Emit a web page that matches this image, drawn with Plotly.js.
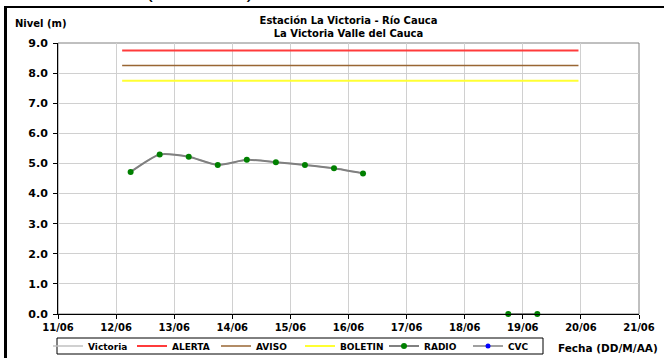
<!DOCTYPE html>
<html>
<head>
<meta charset="utf-8">
<script src="https://cdn.plot.ly/plotly-3.0.1.min.js"></script>
<style>
  html, body { margin: 0; padding: 0; background: #fff; overflow: hidden; }
  #chart { position: absolute; left: 0; top: 0; width: 664px; height: 358px; }
  #frame { position: absolute; left: 4px; top: 6px; width: 700px; height: 400px;
           border-left: 3px solid #000; border-top: 2px solid #000; pointer-events: none; }
</style>
</head>
<body>
<div id="chart"></div>
<div id="frame"></div>
<script>
// ---- data ----
const radioTimes = ['2013-06-12 06:00', '2013-06-12 18:00', '2013-06-13 06:00', '2013-06-13 18:00',
                    '2013-06-14 06:00', '2013-06-14 18:00', '2013-06-15 06:00', '2013-06-15 18:00',
                    '2013-06-16 06:00', '2013-06-17 12:00', '2013-06-18 18:00', '2013-06-19 06:00'];
const radioLevels = [4.72, 5.30, 5.22, 4.95, 5.12, 5.04, 4.95, 4.84, 4.67, null, 0, 0];
const cvcTimes = [null];
const cvcLevels = [null];
const thresholdTimes = ['2013-06-12 02:30', '2013-06-19 23:00'];
const alertaLevel = [8.75, 8.75];
const avisoLevel = [8.25, 8.25];
const boletinLevel = [7.75, 7.75];
const xTickStart = '2013-06-11';
const xTickEnd = '2013-06-21';
const titleText = 'Estación La Victoria - Río Cauca<br>La Victoria Valle del Cauca';
const headerText = 'Río Cauca (La Victoria)';

const FONT = 'DejaVu Sans, Verdana, sans-serif';
const PW = 581, PH = 271; // plot area size in px

const traces = [
  {name: 'Victoria', x: radioTimes, y: radioLevels, type: 'scatter', mode: 'lines',
   line: {color: '#c0c0c0', width: 1.5, shape: 'spline', smoothing: 0.6}, connectgaps: false},
  {name: 'ALERTA', x: thresholdTimes, y: alertaLevel, type: 'scatter', mode: 'lines',
   line: {color: '#ff3b3b', width: 2}},
  {name: 'AVISO', x: thresholdTimes, y: avisoLevel, type: 'scatter', mode: 'lines',
   line: {color: '#996633', width: 1.5}},
  {name: 'BOLETIN', x: thresholdTimes, y: boletinLevel, type: 'scatter', mode: 'lines',
   line: {color: '#ffff33', width: 2}},
  {name: 'RADIO', x: radioTimes, y: radioLevels, type: 'scatter', mode: 'lines+markers',
   line: {color: '#808080', width: 2, shape: 'spline', smoothing: 0.6},
   marker: {color: '#008000', size: 6}, connectgaps: false, cliponaxis: false},
  {name: 'CVC', x: cvcTimes, y: cvcLevels, type: 'scatter', mode: 'lines+markers',
   line: {color: '#a0a0a0', width: 2}, marker: {color: '#0000ff', size: 5}}
];

const layout = {
  width: 664, height: 358,
  margin: {l: 58, r: 25, t: 43, b: 44, pad: 0, autoexpand: false},
  paper_bgcolor: '#fff', plot_bgcolor: '#fff',
  font: {family: FONT, size: 10, color: '#000'},
  showlegend: true,
  title: {text: titleText, font: {family: FONT, size: 10, weight: 'bold', color: '#000'},
          xref: 'paper', x: 0.5, xanchor: 'center', yref: 'container', y: 1 - 23.5/358, yanchor: 'middle'},
  xaxis: {type: 'date', range: [xTickStart, xTickEnd], dtick: 86400000, tick0: xTickStart,
          tickformat: '%d/%m', showgrid: true, gridcolor: '#d0d0d0', gridwidth: 1,
          showline: true, linecolor: '#000', linewidth: 1, ticks: 'outside', ticklen: 4,
          tickcolor: '#000', tickfont: {family: FONT, size: 10, weight: 'bold'}, zeroline: false, fixedrange: true},
  yaxis: {range: [0, 9], dtick: 1, tickformat: '.1f', showgrid: true, gridcolor: '#d0d0d0', gridwidth: 1,
          showline: true, linecolor: '#000', linewidth: 1, ticks: 'outside', ticklen: 4, tickcolor: '#000',
          ticklabelstandoff: 3,
          tickfont: {family: FONT, size: 11, weight: 'bold'}, zeroline: false, fixedrange: true},
  shapes: [
    {type: 'rect', xref: 'paper', yref: 'paper', x0: 0, x1: 1, y0: 0, y1: 1,
     line: {color: '#808080', width: 1}, layer: 'below'},
    {type: 'rect', xref: 'paper', yref: 'paper', x0: (57 - 58) / PW, x1: (543 - 58) / PW,
     y0: -(354 - 314) / PH, y1: -(338 - 314) / PH, line: {color: '#000', width: 1}, layer: 'below'}
  ],
  legend: {orientation: 'h', x: -10 / PW, xanchor: 'left', y: -32 / PH, yanchor: 'middle',
           borderwidth: 0, bgcolor: 'rgba(0,0,0,0)',
           font: {family: FONT, size: 9, weight: 'bold'},
           itemwidth: 30, entrywidth: 39, entrywidthmode: 'pixels', tracegroupgap: 0},
  annotations: [
    {text: 'Nivel (m)', xref: 'paper', yref: 'paper', x: -45 / PW, xanchor: 'left',
     y: 1 + 20 / PH, yanchor: 'middle', showarrow: false,
     font: {family: FONT, size: 10, weight: 'bold'}},
    {text: 'Fecha (DD/M/AA)', xref: 'paper', yref: 'paper', x: 1 + 21 / PW, xanchor: 'right',
     y: -34 / PH, yanchor: 'middle', showarrow: false,
     font: {family: FONT, size: 10.5, weight: 'bold'}},
    {text: headerText, xref: 'paper', yref: 'paper', x: -14 / PW, xanchor: 'left',
     y: 1 + 52 / PH, yanchor: 'middle', showarrow: false,
     font: {family: 'Liberation Sans, Arial, sans-serif', size: 20, color: '#000'}}
  ]
};

Plotly.newPlot('chart', traces, layout, {staticPlot: true, displayModeBar: false});
</script>
</body>
</html>
